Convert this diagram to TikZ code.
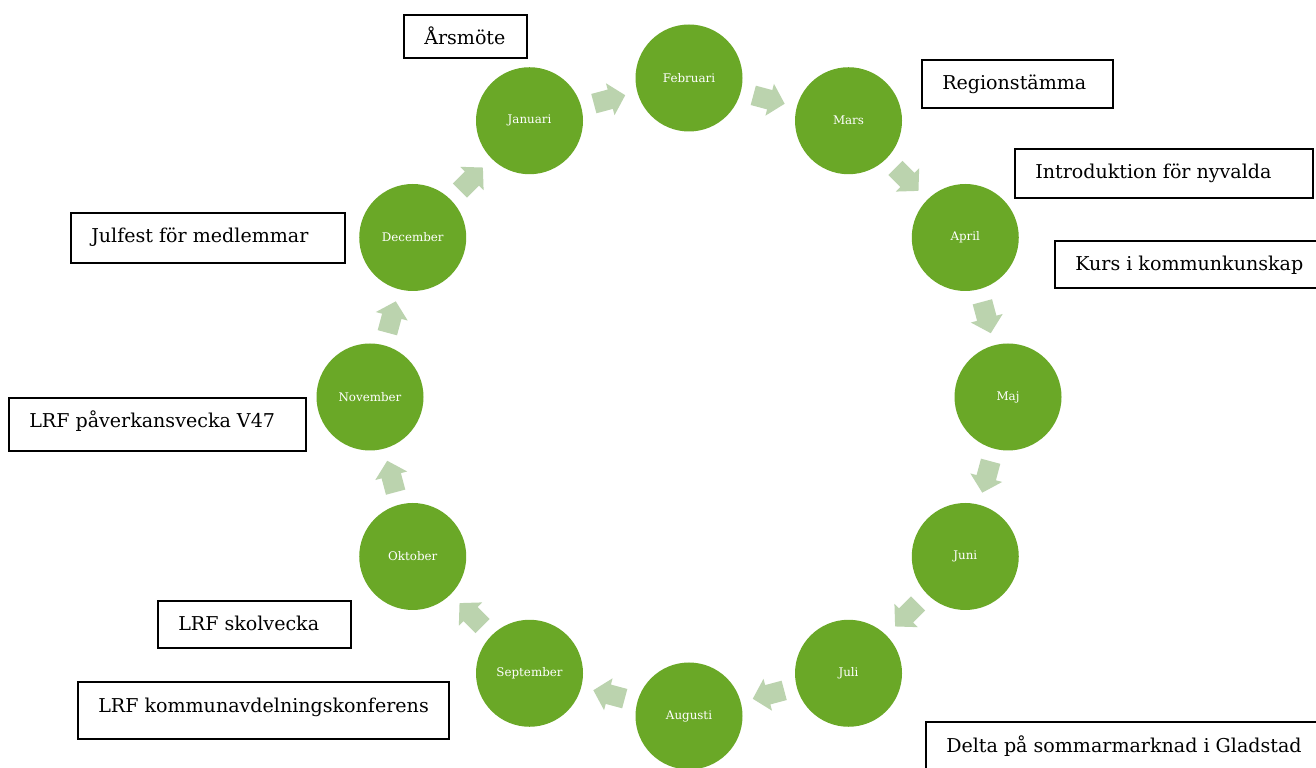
\documentclass[tikz,border=0pt]{standalone}
\usepackage{fontspec}
\setmainfont{DejaVu Serif}
\definecolor{ringgreen}{RGB}{106,168,39}
\definecolor{arrowgreen}{RGB}{187,211,174}
\tikzset{
  month/.style={circle, fill=ringgreen, minimum size=80.25pt, inner sep=0pt,
    text=white, font=\fontsize{8.9pt}{10pt}\selectfont},
  evbox/.style={draw=black, line width=1.35pt, anchor=north west, inner sep=0pt},
  evtext/.style={anchor=base west, inner sep=0pt, font=\fontsize{14.3pt}{17pt}\selectfont},
  blockarrow/.style={fill=arrowgreen}
}
\begin{document}
\begin{tikzpicture}[x=0.75pt,y=0.75pt]
\clip (0,0) rectangle (1316,767);
\fill[white] (0,0) rectangle (1316,767);
% ring of months
\begin{scope}[shift={(689,370)}]
\foreach \name [count=\k from 0] in {Februari,Mars,April,Maj,Juni,Juli,Augusti,September,Oktober,November,December,Januari}{
  \pgfmathsetmacro{\ang}{90-30*\k}
  \node[month] (m\k) at (\ang:319) {\name};
}
\foreach \k in {0,...,11}{
  \pgfmathsetmacro{\phi}{75-30*\k}
  \begin{scope}[shift={(\phi:308)}, rotate=\phi-90]
    \coordinate (a\k) at (0,0);
    \fill[blockarrow] (-16,-10) -- (1,-10) -- (1,-16.5) -- (16.5,0) -- (1,16.5) -- (1,10) -- (-16,10) -- cycle;
  \end{scope}
}
\end{scope}
% event boxes: (left, 767-top), width, height in px
\newcommand{\evt}[6]{%
  \node[evbox, minimum width=#3*0.75pt, minimum height=#4*0.75pt] (#5) at (#1,{767-#2}) {};
  \node[evtext] (#5t) at ({#1+21},{767-#2-31}) {#6};
}
\evt{403}{14}{123}{43}{b1}{Årsmöte}
\evt{921}{59}{191}{48}{b2}{Regionstämma}
\evt{1014}{148}{298}{49}{b3}{Introduktion för nyvalda}
\evt{1054}{240}{262}{47}{b4}{Kurs i kommunkunskap}
\evt{70}{212}{274}{50}{b5}{Julfest för medlemmar}
\evt{8}{397}{297}{53}{b6}{LRF påverkansvecka V47}
\evt{157}{600}{193}{47}{b7}{LRF skolvecka}
\evt{77}{681}{371}{57}{b8}{LRF kommunavdelningskonferens}
\evt{925}{721}{420}{60}{b9}{Delta på sommarmarknad i Gladstad}
\end{tikzpicture}
\end{document}
